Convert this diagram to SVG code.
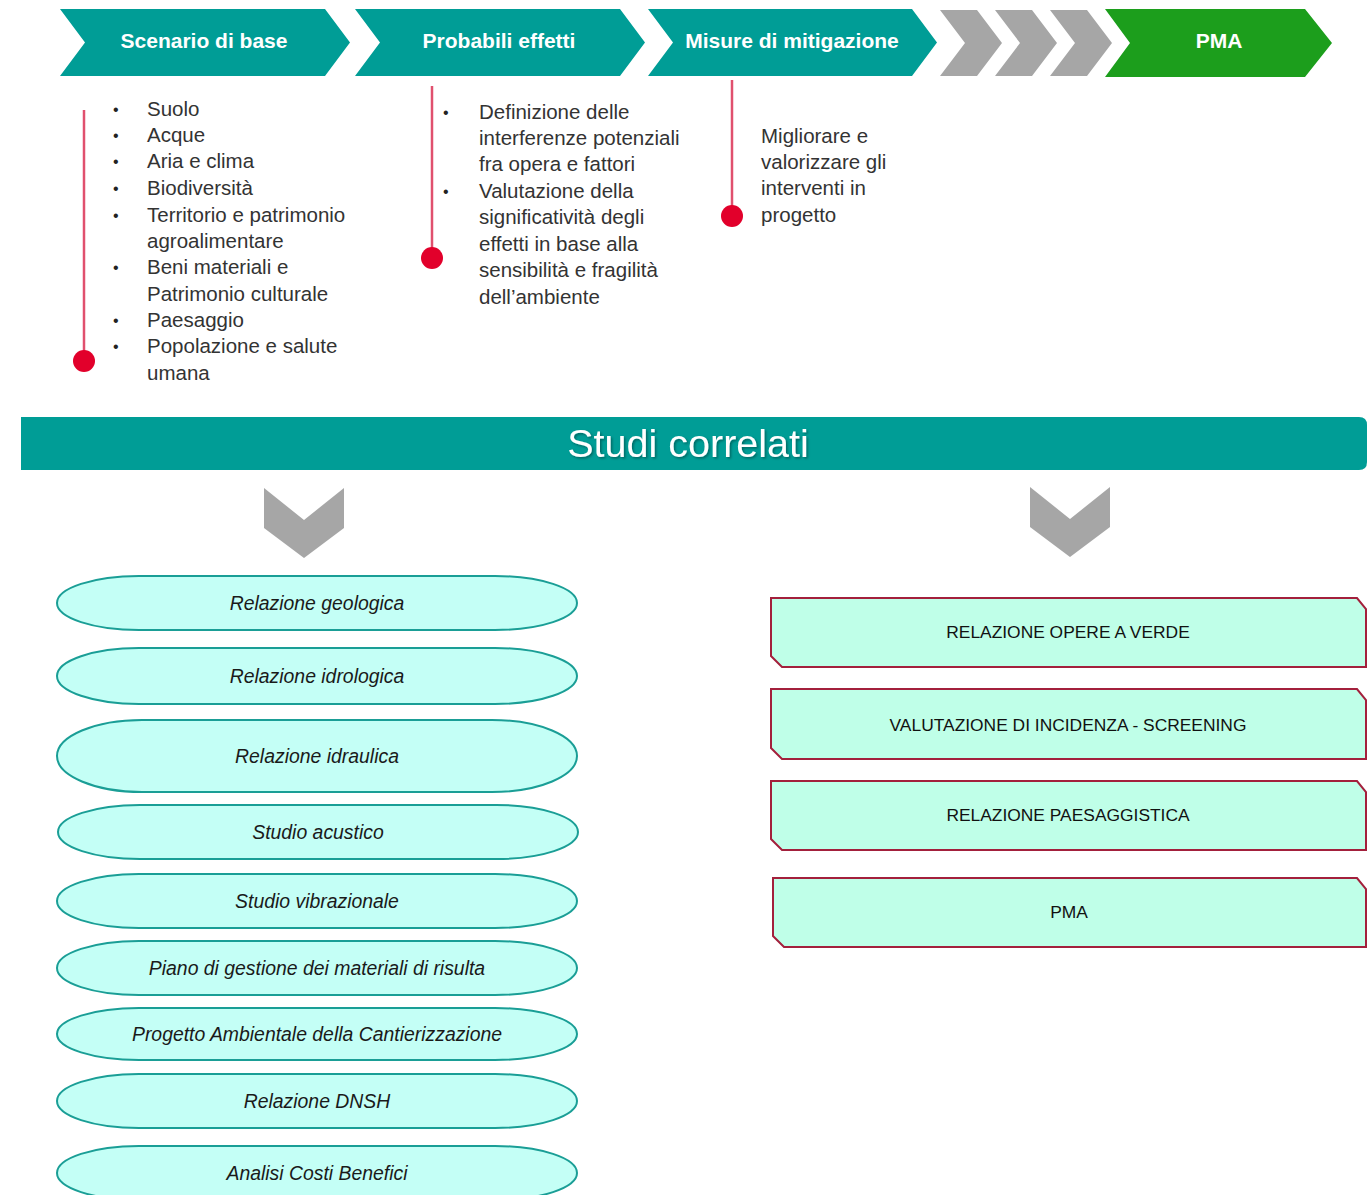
<svg xmlns="http://www.w3.org/2000/svg" width="1367" height="1195" viewBox="0 0 1367 1195">
<defs>
<style>
.teal{fill:#009D96}
.gray{fill:#A6A6A6}
.hdr{font-family:"Liberation Sans",Arial,sans-serif;font-weight:bold;font-size:21px;fill:#ffffff;text-anchor:middle}
.lst{font-family:"Liberation Sans",Arial,sans-serif;font-size:20.5px;fill:#333333}
.bul{font-family:"Liberation Sans",Arial,sans-serif;font-size:16px;fill:#222222}
.rline{stroke:#E0506E;stroke-width:2.5}
.dot{fill:#E2002B}
.ell{fill:#C4FFF6;stroke:#1A9E96;stroke-width:2}
.etx{font-family:"Liberation Sans",Arial,sans-serif;font-style:italic;font-size:19.4px;fill:#1a1a1a;text-anchor:middle}
.box{fill:#BFFFE8;stroke:#A3203C;stroke-width:2}
.btx{font-family:"Liberation Sans",Arial,sans-serif;font-size:17.4px;fill:#111111;text-anchor:middle}
</style>
<filter id="sh" x="-10%" y="-30%" width="120%" height="160%">
<feDropShadow dx="1.5" dy="1.5" stdDeviation="1" flood-color="#000" flood-opacity="0.35"/>
</filter>
</defs>
<rect width="1367" height="1195" fill="#ffffff"/>

<g id="step-scenario">
<path class="teal" d="M60,9 L325,9 L350,42.5 L325,76 L60,76 L85,42.5 Z"/>
<text class="hdr" x="204" y="48">Scenario di base</text>
</g>
<g id="step-effetti">
<path class="teal" d="M355,9 L620,9 L645,42.5 L620,76 L355,76 L380,42.5 Z"/>
<text class="hdr" x="499" y="48">Probabili effetti</text>
</g>
<g id="step-mitigazione">
<path class="teal" d="M648,9 L912,9 L937,42.5 L912,76 L648,76 L673,42.5 Z"/>
<text class="hdr" x="792" y="48">Misure di mitigazione</text>
</g>
<g id="step-gray">
<path class="gray" d="M940,10 L977,10 L1002,43 L977,76 L940,76 L965,43 Z"/>
<path class="gray" d="M995,10 L1032,10 L1057,43 L1032,76 L995,76 L1020,43 Z"/>
<path class="gray" d="M1050,10 L1087,10 L1112,43 L1087,76 L1050,76 L1075,43 Z"/>
</g>
<g id="step-pma">
<path fill="#1C9E1C" d="M1105,9 L1305,9 L1332,43 L1305,77 L1105,77 L1130,43 Z"/>
<text class="hdr" x="1219" y="48">PMA</text>
</g>

<g id="connectors">
<line class="rline" x1="84" y1="110" x2="84" y2="358"/>
<circle class="dot" cx="84" cy="361" r="11"/>
<line class="rline" x1="432" y1="86" x2="432" y2="255"/>
<circle class="dot" cx="432" cy="258" r="11"/>
<line class="rline" x1="732" y1="80" x2="732" y2="213"/>
<circle class="dot" cx="732" cy="216" r="11"/>
<path class="gray" d="M264,488 L304,520 L344,488 L344,528 L304,558 L264,528 Z"/>
<path class="gray" d="M1030,487 L1070,519 L1110,487 L1110,527 L1070,557 L1030,527 Z"/>
</g>

<g id="list-scenario">
<text class="bul" x="113" y="115">•</text>
<text class="bul" x="113" y="141">•</text>
<text class="bul" x="113" y="167">•</text>
<text class="bul" x="113" y="194">•</text>
<text class="bul" x="113" y="221">•</text>
<text class="bul" x="113" y="273">•</text>
<text class="bul" x="113" y="326">•</text>
<text class="bul" x="113" y="352">•</text>
<text class="lst" x="147" y="116">Suolo</text>
<text class="lst" x="147" y="142">Acque</text>
<text class="lst" x="147" y="168">Aria e clima</text>
<text class="lst" x="147" y="195">Biodiversità</text>
<text class="lst" x="147" y="222">Territorio e patrimonio</text>
<text class="lst" x="147" y="248">agroalimentare</text>
<text class="lst" x="147" y="274">Beni materiali e</text>
<text class="lst" x="147" y="301">Patrimonio culturale</text>
<text class="lst" x="147" y="327">Paesaggio</text>
<text class="lst" x="147" y="353">Popolazione e salute</text>
<text class="lst" x="147" y="380">umana</text>
</g>

<g id="list-effetti">
<text class="bul" x="443" y="118">•</text>
<text class="bul" x="443" y="197">•</text>
<text class="lst" x="479" y="119">Definizione delle</text>
<text class="lst" x="479" y="145">interferenze potenziali</text>
<text class="lst" x="479" y="171">fra opera e fattori</text>
<text class="lst" x="479" y="198">Valutazione della</text>
<text class="lst" x="479" y="224">significatività degli</text>
<text class="lst" x="479" y="251">effetti in base alla</text>
<text class="lst" x="479" y="277">sensibilità e fragilità</text>
<text class="lst" x="479" y="304">dell’ambiente</text>
</g>

<g id="list-mitigazione">
<text class="lst" x="761" y="143">Migliorare e</text>
<text class="lst" x="761" y="169">valorizzare gli</text>
<text class="lst" x="761" y="195">interventi in</text>
<text class="lst" x="761" y="222">progetto</text>
</g>

<g id="studi-correlati">
<path class="teal" d="M21,417 L1359,417 Q1367,417 1367,425 L1367,462 Q1367,470 1359,470 L21,470 Z"/>
<text x="688" y="457" filter="url(#sh)" style="font-family:'Liberation Sans',Arial,sans-serif;font-size:39.5px;fill:#ffffff;text-anchor:middle">Studi correlati</text>
</g>

<g id="ell-geologica"><rect class="ell" x="57" y="576" width="520" height="54" rx="82" ry="27"/><text class="etx" x="317" y="610">Relazione geologica</text></g>
<g id="ell-idrologica"><rect class="ell" x="57" y="648" width="520" height="56" rx="82" ry="28"/><text class="etx" x="317" y="683">Relazione idrologica</text></g>
<g id="ell-idraulica"><rect class="ell" x="57" y="720" width="520" height="72" rx="85" ry="36"/><text class="etx" x="317" y="763">Relazione idraulica</text></g>
<g id="ell-acustico"><rect class="ell" x="58" y="805" width="520" height="54" rx="82" ry="27"/><text class="etx" x="318" y="839">Studio acustico</text></g>
<g id="ell-vibrazionale"><rect class="ell" x="57" y="874" width="520" height="54" rx="82" ry="27"/><text class="etx" x="317" y="908">Studio vibrazionale</text></g>
<g id="ell-materiali"><rect class="ell" x="57" y="941" width="520" height="54" rx="82" ry="27"/><text class="etx" x="317" y="975">Piano di gestione dei materiali di risulta</text></g>
<g id="ell-cantierizzazione"><rect class="ell" x="57" y="1008" width="520" height="52" rx="82" ry="26"/><text class="etx" x="317" y="1041">Progetto Ambientale della Cantierizzazione</text></g>
<g id="ell-dnsh"><rect class="ell" x="57" y="1074" width="520" height="54" rx="82" ry="27"/><text class="etx" x="317" y="1108">Relazione DNSH</text></g>
<g id="ell-acb"><rect class="ell" x="57" y="1146" width="520" height="54" rx="82" ry="27"/><text class="etx" x="317" y="1180">Analisi Costi Benefici</text></g>

<g id="box-verde"><path class="box" d="M771,598 L1357,598 L1366,609 L1366,667 L782,667 L771,656 Z"/><text class="btx" x="1068" y="638">RELAZIONE OPERE A VERDE</text></g>
<g id="box-vinca"><path class="box" d="M771,689 L1357,689 L1366,700 L1366,759 L782,759 L771,748 Z"/><text class="btx" x="1068" y="731">VALUTAZIONE DI INCIDENZA - SCREENING</text></g>
<g id="box-paesaggistica"><path class="box" d="M771,781 L1357,781 L1366,792 L1366,850 L782,850 L771,839 Z"/><text class="btx" x="1068" y="821">RELAZIONE PAESAGGISTICA</text></g>
<g id="box-pma"><path class="box" d="M773,878 L1357,878 L1366,889 L1366,947 L784,947 L773,936 Z"/><text class="btx" x="1069" y="918">PMA</text></g>
</svg>
